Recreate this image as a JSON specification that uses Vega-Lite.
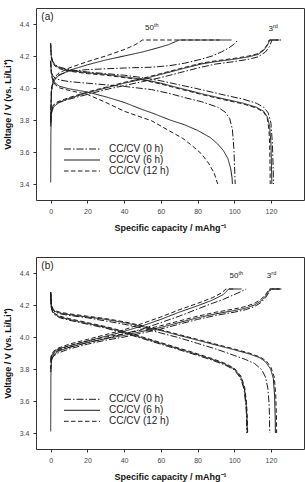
{
  "$schema": "https://vega.github.io/schema/vega-lite/v6.json",
  "padding": {"left": 2, "top": 7, "right": 2, "bottom": 0},
  "bounds": "flush",
  "spacing": 57,
  "config": {
    "font": "Liberation Sans",
    "view": {"stroke": "#333333", "strokeWidth": 1},
    "axis": {
      "grid": false, "domain": false, "tickSize": 3, "tickColor": "#333333", "labelOverlap": false,
      "labelFont": "Liberation Sans", "labelFontSize": 7, "labelColor": "#444444", "labelPadding": 4,
      "titleFont": "Liberation Sans", "titleFontSize": 9, "titleFontWeight": "bold", "titleColor": "#111111"
    },
    "legend": {
      "title": null, "orient": "none", "symbolType": "stroke", "symbolSize": 1296,
      "symbolStrokeWidth": 1, "symbolStrokeColor": "#1c1c1c", "clipHeight": 11, "rowPadding": 0,
      "labelOffset": 8.5, "labelFont": "Liberation Sans", "labelFontSize": 10, "labelColor": "#222222", "padding": 0
    }
  },
  "resolve": {"scale": {"strokeDash": "independent"}, "legend": {"strokeDash": "independent"}},
  "datasets": {
    "notes": [
      {"panel": "a", "main": "50", "sup": "th", "cap": 56.3, "v": 4.372},
      {"panel": "a", "main": "3", "sup": "rd", "cap": 121.1, "v": 4.369},
      {"panel": "b", "main": "50", "sup": "th", "cap": 102.3, "v": 4.379},
      {"panel": "b", "main": "3", "sup": "rd", "cap": 120.2, "v": 4.379}
    ],
    "tags": [
      {"panel": "a", "tag": "(a)", "cap": -5.1, "v": 4.441},
      {"panel": "b", "tag": "(b)", "cap": -5.1, "v": 4.441}
    ],
    "curves": [
      {"panel":"a","series":"0 h","cycle":"3rd","step":"discharge","cap":0,"v":4.27},
      {"panel":"a","series":"0 h","cycle":"3rd","step":"discharge","cap":0.3,"v":4.2},
      {"panel":"a","series":"0 h","cycle":"3rd","step":"discharge","cap":1,"v":4.17},
      {"panel":"a","series":"0 h","cycle":"3rd","step":"discharge","cap":2.5,"v":4.145},
      {"panel":"a","series":"0 h","cycle":"3rd","step":"discharge","cap":5,"v":4.13},
      {"panel":"a","series":"0 h","cycle":"3rd","step":"discharge","cap":10,"v":4.115},
      {"panel":"a","series":"0 h","cycle":"3rd","step":"discharge","cap":20,"v":4.1},
      {"panel":"a","series":"0 h","cycle":"3rd","step":"discharge","cap":30,"v":4.09},
      {"panel":"a","series":"0 h","cycle":"3rd","step":"discharge","cap":40,"v":4.08},
      {"panel":"a","series":"0 h","cycle":"3rd","step":"discharge","cap":50,"v":4.065},
      {"panel":"a","series":"0 h","cycle":"3rd","step":"discharge","cap":60,"v":4.045},
      {"panel":"a","series":"0 h","cycle":"3rd","step":"discharge","cap":70,"v":4.02},
      {"panel":"a","series":"0 h","cycle":"3rd","step":"discharge","cap":82,"v":3.99},
      {"panel":"a","series":"0 h","cycle":"3rd","step":"discharge","cap":95,"v":3.955},
      {"panel":"a","series":"0 h","cycle":"3rd","step":"discharge","cap":105,"v":3.93},
      {"panel":"a","series":"0 h","cycle":"3rd","step":"discharge","cap":112,"v":3.905},
      {"panel":"a","series":"0 h","cycle":"3rd","step":"discharge","cap":116,"v":3.88},
      {"panel":"a","series":"0 h","cycle":"3rd","step":"discharge","cap":118.5,"v":3.845},
      {"panel":"a","series":"0 h","cycle":"3rd","step":"discharge","cap":120,"v":3.78},
      {"panel":"a","series":"0 h","cycle":"3rd","step":"discharge","cap":120.8,"v":3.65},
      {"panel":"a","series":"0 h","cycle":"3rd","step":"discharge","cap":121.2,"v":3.5},
      {"panel":"a","series":"0 h","cycle":"3rd","step":"discharge","cap":121.4,"v":3.4},

      {"panel":"a","series":"6 h","cycle":"3rd","step":"discharge","cap":0,"v":4.28},
      {"panel":"a","series":"6 h","cycle":"3rd","step":"discharge","cap":0.3,"v":4.2},
      {"panel":"a","series":"6 h","cycle":"3rd","step":"discharge","cap":1,"v":4.165},
      {"panel":"a","series":"6 h","cycle":"3rd","step":"discharge","cap":2.5,"v":4.14},
      {"panel":"a","series":"6 h","cycle":"3rd","step":"discharge","cap":5,"v":4.125},
      {"panel":"a","series":"6 h","cycle":"3rd","step":"discharge","cap":10,"v":4.11},
      {"panel":"a","series":"6 h","cycle":"3rd","step":"discharge","cap":20,"v":4.095},
      {"panel":"a","series":"6 h","cycle":"3rd","step":"discharge","cap":30,"v":4.085},
      {"panel":"a","series":"6 h","cycle":"3rd","step":"discharge","cap":40,"v":4.07},
      {"panel":"a","series":"6 h","cycle":"3rd","step":"discharge","cap":50,"v":4.055},
      {"panel":"a","series":"6 h","cycle":"3rd","step":"discharge","cap":60,"v":4.03},
      {"panel":"a","series":"6 h","cycle":"3rd","step":"discharge","cap":70,"v":4.0},
      {"panel":"a","series":"6 h","cycle":"3rd","step":"discharge","cap":82,"v":3.965},
      {"panel":"a","series":"6 h","cycle":"3rd","step":"discharge","cap":95,"v":3.93},
      {"panel":"a","series":"6 h","cycle":"3rd","step":"discharge","cap":105,"v":3.905},
      {"panel":"a","series":"6 h","cycle":"3rd","step":"discharge","cap":112,"v":3.88},
      {"panel":"a","series":"6 h","cycle":"3rd","step":"discharge","cap":116,"v":3.855},
      {"panel":"a","series":"6 h","cycle":"3rd","step":"discharge","cap":118,"v":3.82},
      {"panel":"a","series":"6 h","cycle":"3rd","step":"discharge","cap":119.3,"v":3.76},
      {"panel":"a","series":"6 h","cycle":"3rd","step":"discharge","cap":120,"v":3.65},
      {"panel":"a","series":"6 h","cycle":"3rd","step":"discharge","cap":120.3,"v":3.5},
      {"panel":"a","series":"6 h","cycle":"3rd","step":"discharge","cap":120.5,"v":3.4},

      {"panel":"a","series":"12 h","cycle":"3rd","step":"discharge","cap":0,"v":4.28},
      {"panel":"a","series":"12 h","cycle":"3rd","step":"discharge","cap":0.3,"v":4.19},
      {"panel":"a","series":"12 h","cycle":"3rd","step":"discharge","cap":1,"v":4.16},
      {"panel":"a","series":"12 h","cycle":"3rd","step":"discharge","cap":2.5,"v":4.135},
      {"panel":"a","series":"12 h","cycle":"3rd","step":"discharge","cap":5,"v":4.12},
      {"panel":"a","series":"12 h","cycle":"3rd","step":"discharge","cap":10,"v":4.105},
      {"panel":"a","series":"12 h","cycle":"3rd","step":"discharge","cap":20,"v":4.09},
      {"panel":"a","series":"12 h","cycle":"3rd","step":"discharge","cap":30,"v":4.08},
      {"panel":"a","series":"12 h","cycle":"3rd","step":"discharge","cap":40,"v":4.065},
      {"panel":"a","series":"12 h","cycle":"3rd","step":"discharge","cap":50,"v":4.05},
      {"panel":"a","series":"12 h","cycle":"3rd","step":"discharge","cap":60,"v":4.025},
      {"panel":"a","series":"12 h","cycle":"3rd","step":"discharge","cap":70,"v":3.995},
      {"panel":"a","series":"12 h","cycle":"3rd","step":"discharge","cap":82,"v":3.96},
      {"panel":"a","series":"12 h","cycle":"3rd","step":"discharge","cap":95,"v":3.925},
      {"panel":"a","series":"12 h","cycle":"3rd","step":"discharge","cap":105,"v":3.9},
      {"panel":"a","series":"12 h","cycle":"3rd","step":"discharge","cap":112,"v":3.875},
      {"panel":"a","series":"12 h","cycle":"3rd","step":"discharge","cap":116,"v":3.85},
      {"panel":"a","series":"12 h","cycle":"3rd","step":"discharge","cap":118,"v":3.81},
      {"panel":"a","series":"12 h","cycle":"3rd","step":"discharge","cap":118.9,"v":3.74},
      {"panel":"a","series":"12 h","cycle":"3rd","step":"discharge","cap":119.3,"v":3.64},
      {"panel":"a","series":"12 h","cycle":"3rd","step":"discharge","cap":119.5,"v":3.5},
      {"panel":"a","series":"12 h","cycle":"3rd","step":"discharge","cap":119.6,"v":3.4},

      {"panel":"a","series":"0 h","cycle":"3rd","step":"charge","cap":0,"v":3.76},
      {"panel":"a","series":"0 h","cycle":"3rd","step":"charge","cap":0.4,"v":3.85},
      {"panel":"a","series":"0 h","cycle":"3rd","step":"charge","cap":1.5,"v":3.89},
      {"panel":"a","series":"0 h","cycle":"3rd","step":"charge","cap":4,"v":3.91},
      {"panel":"a","series":"0 h","cycle":"3rd","step":"charge","cap":10,"v":3.93},
      {"panel":"a","series":"0 h","cycle":"3rd","step":"charge","cap":20,"v":3.96},
      {"panel":"a","series":"0 h","cycle":"3rd","step":"charge","cap":30,"v":3.99},
      {"panel":"a","series":"0 h","cycle":"3rd","step":"charge","cap":40,"v":4.015},
      {"panel":"a","series":"0 h","cycle":"3rd","step":"charge","cap":50,"v":4.04},
      {"panel":"a","series":"0 h","cycle":"3rd","step":"charge","cap":60,"v":4.065},
      {"panel":"a","series":"0 h","cycle":"3rd","step":"charge","cap":70,"v":4.095},
      {"panel":"a","series":"0 h","cycle":"3rd","step":"charge","cap":82,"v":4.13},
      {"panel":"a","series":"0 h","cycle":"3rd","step":"charge","cap":90,"v":4.15},
      {"panel":"a","series":"0 h","cycle":"3rd","step":"charge","cap":100,"v":4.165},
      {"panel":"a","series":"0 h","cycle":"3rd","step":"charge","cap":108,"v":4.18},
      {"panel":"a","series":"0 h","cycle":"3rd","step":"charge","cap":113,"v":4.195},
      {"panel":"a","series":"0 h","cycle":"3rd","step":"charge","cap":117,"v":4.225},
      {"panel":"a","series":"0 h","cycle":"3rd","step":"charge","cap":119.3,"v":4.26},
      {"panel":"a","series":"0 h","cycle":"3rd","step":"charge","cap":120.5,"v":4.3},
      {"panel":"a","series":"0 h","cycle":"3rd","step":"charge","cap":125.5,"v":4.3},

      {"panel":"a","series":"6 h","cycle":"3rd","step":"charge","cap":0,"v":3.41},
      {"panel":"a","series":"6 h","cycle":"3rd","step":"charge","cap":0.1,"v":3.72},
      {"panel":"a","series":"6 h","cycle":"3rd","step":"charge","cap":0.4,"v":3.84},
      {"panel":"a","series":"6 h","cycle":"3rd","step":"charge","cap":1.5,"v":3.88},
      {"panel":"a","series":"6 h","cycle":"3rd","step":"charge","cap":4,"v":3.905},
      {"panel":"a","series":"6 h","cycle":"3rd","step":"charge","cap":10,"v":3.935},
      {"panel":"a","series":"6 h","cycle":"3rd","step":"charge","cap":20,"v":3.97},
      {"panel":"a","series":"6 h","cycle":"3rd","step":"charge","cap":30,"v":4.0},
      {"panel":"a","series":"6 h","cycle":"3rd","step":"charge","cap":40,"v":4.03},
      {"panel":"a","series":"6 h","cycle":"3rd","step":"charge","cap":50,"v":4.055},
      {"panel":"a","series":"6 h","cycle":"3rd","step":"charge","cap":60,"v":4.085},
      {"panel":"a","series":"6 h","cycle":"3rd","step":"charge","cap":70,"v":4.115},
      {"panel":"a","series":"6 h","cycle":"3rd","step":"charge","cap":82,"v":4.15},
      {"panel":"a","series":"6 h","cycle":"3rd","step":"charge","cap":90,"v":4.165},
      {"panel":"a","series":"6 h","cycle":"3rd","step":"charge","cap":100,"v":4.18},
      {"panel":"a","series":"6 h","cycle":"3rd","step":"charge","cap":108,"v":4.195},
      {"panel":"a","series":"6 h","cycle":"3rd","step":"charge","cap":113,"v":4.21},
      {"panel":"a","series":"6 h","cycle":"3rd","step":"charge","cap":116,"v":4.235},
      {"panel":"a","series":"6 h","cycle":"3rd","step":"charge","cap":118,"v":4.265},
      {"panel":"a","series":"6 h","cycle":"3rd","step":"charge","cap":119.4,"v":4.3},
      {"panel":"a","series":"6 h","cycle":"3rd","step":"charge","cap":124.5,"v":4.3},

      {"panel":"a","series":"12 h","cycle":"3rd","step":"charge","cap":0,"v":3.79},
      {"panel":"a","series":"12 h","cycle":"3rd","step":"charge","cap":0.4,"v":3.86},
      {"panel":"a","series":"12 h","cycle":"3rd","step":"charge","cap":1.5,"v":3.895},
      {"panel":"a","series":"12 h","cycle":"3rd","step":"charge","cap":4,"v":3.915},
      {"panel":"a","series":"12 h","cycle":"3rd","step":"charge","cap":10,"v":3.94},
      {"panel":"a","series":"12 h","cycle":"3rd","step":"charge","cap":20,"v":3.975},
      {"panel":"a","series":"12 h","cycle":"3rd","step":"charge","cap":30,"v":4.005},
      {"panel":"a","series":"12 h","cycle":"3rd","step":"charge","cap":40,"v":4.035},
      {"panel":"a","series":"12 h","cycle":"3rd","step":"charge","cap":50,"v":4.06},
      {"panel":"a","series":"12 h","cycle":"3rd","step":"charge","cap":60,"v":4.09},
      {"panel":"a","series":"12 h","cycle":"3rd","step":"charge","cap":70,"v":4.12},
      {"panel":"a","series":"12 h","cycle":"3rd","step":"charge","cap":82,"v":4.155},
      {"panel":"a","series":"12 h","cycle":"3rd","step":"charge","cap":90,"v":4.17},
      {"panel":"a","series":"12 h","cycle":"3rd","step":"charge","cap":100,"v":4.185},
      {"panel":"a","series":"12 h","cycle":"3rd","step":"charge","cap":108,"v":4.2},
      {"panel":"a","series":"12 h","cycle":"3rd","step":"charge","cap":113,"v":4.215},
      {"panel":"a","series":"12 h","cycle":"3rd","step":"charge","cap":116,"v":4.24},
      {"panel":"a","series":"12 h","cycle":"3rd","step":"charge","cap":118,"v":4.27},
      {"panel":"a","series":"12 h","cycle":"3rd","step":"charge","cap":119,"v":4.3},
      {"panel":"a","series":"12 h","cycle":"3rd","step":"charge","cap":124,"v":4.3},

      {"panel":"a","series":"0 h","cycle":"50th","step":"charge","cap":0,"v":3.78},
      {"panel":"a","series":"0 h","cycle":"50th","step":"charge","cap":0.4,"v":3.98},
      {"panel":"a","series":"0 h","cycle":"50th","step":"charge","cap":1.5,"v":4.05},
      {"panel":"a","series":"0 h","cycle":"50th","step":"charge","cap":4,"v":4.08},
      {"panel":"a","series":"0 h","cycle":"50th","step":"charge","cap":10,"v":4.105},
      {"panel":"a","series":"0 h","cycle":"50th","step":"charge","cap":20,"v":4.115},
      {"panel":"a","series":"0 h","cycle":"50th","step":"charge","cap":30,"v":4.12},
      {"panel":"a","series":"0 h","cycle":"50th","step":"charge","cap":40,"v":4.125},
      {"panel":"a","series":"0 h","cycle":"50th","step":"charge","cap":55,"v":4.13},
      {"panel":"a","series":"0 h","cycle":"50th","step":"charge","cap":65,"v":4.14},
      {"panel":"a","series":"0 h","cycle":"50th","step":"charge","cap":73,"v":4.155},
      {"panel":"a","series":"0 h","cycle":"50th","step":"charge","cap":82,"v":4.18},
      {"panel":"a","series":"0 h","cycle":"50th","step":"charge","cap":88,"v":4.2},
      {"panel":"a","series":"0 h","cycle":"50th","step":"charge","cap":93,"v":4.225},
      {"panel":"a","series":"0 h","cycle":"50th","step":"charge","cap":97,"v":4.25},
      {"panel":"a","series":"0 h","cycle":"50th","step":"charge","cap":100,"v":4.275},
      {"panel":"a","series":"0 h","cycle":"50th","step":"charge","cap":102,"v":4.3},

      {"panel":"a","series":"6 h","cycle":"50th","step":"charge","cap":0,"v":3.8},
      {"panel":"a","series":"6 h","cycle":"50th","step":"charge","cap":0.4,"v":3.98},
      {"panel":"a","series":"6 h","cycle":"50th","step":"charge","cap":1.5,"v":4.04},
      {"panel":"a","series":"6 h","cycle":"50th","step":"charge","cap":4,"v":4.075},
      {"panel":"a","series":"6 h","cycle":"50th","step":"charge","cap":10,"v":4.11},
      {"panel":"a","series":"6 h","cycle":"50th","step":"charge","cap":20,"v":4.145},
      {"panel":"a","series":"6 h","cycle":"50th","step":"charge","cap":30,"v":4.175},
      {"panel":"a","series":"6 h","cycle":"50th","step":"charge","cap":40,"v":4.2},
      {"panel":"a","series":"6 h","cycle":"50th","step":"charge","cap":50,"v":4.225},
      {"panel":"a","series":"6 h","cycle":"50th","step":"charge","cap":58,"v":4.25},
      {"panel":"a","series":"6 h","cycle":"50th","step":"charge","cap":64,"v":4.27},
      {"panel":"a","series":"6 h","cycle":"50th","step":"charge","cap":68,"v":4.29},
      {"panel":"a","series":"6 h","cycle":"50th","step":"charge","cap":70,"v":4.3},
      {"panel":"a","series":"6 h","cycle":"50th","step":"charge","cap":98.5,"v":4.3},

      {"panel":"a","series":"12 h","cycle":"50th","step":"charge","cap":0,"v":3.82},
      {"panel":"a","series":"12 h","cycle":"50th","step":"charge","cap":0.4,"v":4.0},
      {"panel":"a","series":"12 h","cycle":"50th","step":"charge","cap":1.5,"v":4.055},
      {"panel":"a","series":"12 h","cycle":"50th","step":"charge","cap":4,"v":4.09},
      {"panel":"a","series":"12 h","cycle":"50th","step":"charge","cap":10,"v":4.125},
      {"panel":"a","series":"12 h","cycle":"50th","step":"charge","cap":20,"v":4.165},
      {"panel":"a","series":"12 h","cycle":"50th","step":"charge","cap":30,"v":4.2},
      {"panel":"a","series":"12 h","cycle":"50th","step":"charge","cap":40,"v":4.24},
      {"panel":"a","series":"12 h","cycle":"50th","step":"charge","cap":46,"v":4.27},
      {"panel":"a","series":"12 h","cycle":"50th","step":"charge","cap":50,"v":4.3},
      {"panel":"a","series":"12 h","cycle":"50th","step":"charge","cap":92,"v":4.3},

      {"panel":"a","series":"0 h","cycle":"50th","step":"discharge","cap":0,"v":4.17},
      {"panel":"a","series":"0 h","cycle":"50th","step":"discharge","cap":0.3,"v":4.11},
      {"panel":"a","series":"0 h","cycle":"50th","step":"discharge","cap":1,"v":4.08},
      {"panel":"a","series":"0 h","cycle":"50th","step":"discharge","cap":2.5,"v":4.06},
      {"panel":"a","series":"0 h","cycle":"50th","step":"discharge","cap":5,"v":4.05},
      {"panel":"a","series":"0 h","cycle":"50th","step":"discharge","cap":10,"v":4.04},
      {"panel":"a","series":"0 h","cycle":"50th","step":"discharge","cap":20,"v":4.03},
      {"panel":"a","series":"0 h","cycle":"50th","step":"discharge","cap":30,"v":4.02},
      {"panel":"a","series":"0 h","cycle":"50th","step":"discharge","cap":40,"v":4.01},
      {"panel":"a","series":"0 h","cycle":"50th","step":"discharge","cap":55,"v":3.99},
      {"panel":"a","series":"0 h","cycle":"50th","step":"discharge","cap":65,"v":3.965},
      {"panel":"a","series":"0 h","cycle":"50th","step":"discharge","cap":73,"v":3.94},
      {"panel":"a","series":"0 h","cycle":"50th","step":"discharge","cap":82,"v":3.915},
      {"panel":"a","series":"0 h","cycle":"50th","step":"discharge","cap":91,"v":3.88},
      {"panel":"a","series":"0 h","cycle":"50th","step":"discharge","cap":95,"v":3.85},
      {"panel":"a","series":"0 h","cycle":"50th","step":"discharge","cap":97.5,"v":3.81},
      {"panel":"a","series":"0 h","cycle":"50th","step":"discharge","cap":99,"v":3.74},
      {"panel":"a","series":"0 h","cycle":"50th","step":"discharge","cap":99.8,"v":3.62},
      {"panel":"a","series":"0 h","cycle":"50th","step":"discharge","cap":100.2,"v":3.5},
      {"panel":"a","series":"0 h","cycle":"50th","step":"discharge","cap":100.5,"v":3.4},

      {"panel":"a","series":"6 h","cycle":"50th","step":"discharge","cap":0,"v":4.17},
      {"panel":"a","series":"6 h","cycle":"50th","step":"discharge","cap":0.3,"v":4.1},
      {"panel":"a","series":"6 h","cycle":"50th","step":"discharge","cap":1,"v":4.06},
      {"panel":"a","series":"6 h","cycle":"50th","step":"discharge","cap":2.5,"v":4.03},
      {"panel":"a","series":"6 h","cycle":"50th","step":"discharge","cap":5,"v":4.01},
      {"panel":"a","series":"6 h","cycle":"50th","step":"discharge","cap":10,"v":3.995},
      {"panel":"a","series":"6 h","cycle":"50th","step":"discharge","cap":20,"v":3.975},
      {"panel":"a","series":"6 h","cycle":"50th","step":"discharge","cap":30,"v":3.945},
      {"panel":"a","series":"6 h","cycle":"50th","step":"discharge","cap":40,"v":3.91},
      {"panel":"a","series":"6 h","cycle":"50th","step":"discharge","cap":50,"v":3.865},
      {"panel":"a","series":"6 h","cycle":"50th","step":"discharge","cap":55,"v":3.845},
      {"panel":"a","series":"6 h","cycle":"50th","step":"discharge","cap":65,"v":3.8},
      {"panel":"a","series":"6 h","cycle":"50th","step":"discharge","cap":73,"v":3.77},
      {"panel":"a","series":"6 h","cycle":"50th","step":"discharge","cap":80,"v":3.735},
      {"panel":"a","series":"6 h","cycle":"50th","step":"discharge","cap":87,"v":3.69},
      {"panel":"a","series":"6 h","cycle":"50th","step":"discharge","cap":91,"v":3.65},
      {"panel":"a","series":"6 h","cycle":"50th","step":"discharge","cap":94,"v":3.61},
      {"panel":"a","series":"6 h","cycle":"50th","step":"discharge","cap":96.5,"v":3.56},
      {"panel":"a","series":"6 h","cycle":"50th","step":"discharge","cap":98,"v":3.5},
      {"panel":"a","series":"6 h","cycle":"50th","step":"discharge","cap":98.8,"v":3.44},
      {"panel":"a","series":"6 h","cycle":"50th","step":"discharge","cap":99,"v":3.4},

      {"panel":"a","series":"12 h","cycle":"50th","step":"discharge","cap":0,"v":4.16},
      {"panel":"a","series":"12 h","cycle":"50th","step":"discharge","cap":0.3,"v":4.09},
      {"panel":"a","series":"12 h","cycle":"50th","step":"discharge","cap":1,"v":4.05},
      {"panel":"a","series":"12 h","cycle":"50th","step":"discharge","cap":2.5,"v":4.02},
      {"panel":"a","series":"12 h","cycle":"50th","step":"discharge","cap":5,"v":4.0},
      {"panel":"a","series":"12 h","cycle":"50th","step":"discharge","cap":10,"v":3.985},
      {"panel":"a","series":"12 h","cycle":"50th","step":"discharge","cap":20,"v":3.96},
      {"panel":"a","series":"12 h","cycle":"50th","step":"discharge","cap":30,"v":3.91},
      {"panel":"a","series":"12 h","cycle":"50th","step":"discharge","cap":40,"v":3.855},
      {"panel":"a","series":"12 h","cycle":"50th","step":"discharge","cap":50,"v":3.815},
      {"panel":"a","series":"12 h","cycle":"50th","step":"discharge","cap":55,"v":3.795},
      {"panel":"a","series":"12 h","cycle":"50th","step":"discharge","cap":65,"v":3.73},
      {"panel":"a","series":"12 h","cycle":"50th","step":"discharge","cap":72,"v":3.685},
      {"panel":"a","series":"12 h","cycle":"50th","step":"discharge","cap":77,"v":3.64},
      {"panel":"a","series":"12 h","cycle":"50th","step":"discharge","cap":82,"v":3.59},
      {"panel":"a","series":"12 h","cycle":"50th","step":"discharge","cap":86,"v":3.53},
      {"panel":"a","series":"12 h","cycle":"50th","step":"discharge","cap":89,"v":3.47},
      {"panel":"a","series":"12 h","cycle":"50th","step":"discharge","cap":91,"v":3.4},

      {"panel":"b","series":"0 h","cycle":"3rd","step":"discharge","cap":0,"v":4.27},
      {"panel":"b","series":"0 h","cycle":"3rd","step":"discharge","cap":0.3,"v":4.195},
      {"panel":"b","series":"0 h","cycle":"3rd","step":"discharge","cap":1,"v":4.17},
      {"panel":"b","series":"0 h","cycle":"3rd","step":"discharge","cap":2.5,"v":4.155},
      {"panel":"b","series":"0 h","cycle":"3rd","step":"discharge","cap":5,"v":4.145},
      {"panel":"b","series":"0 h","cycle":"3rd","step":"discharge","cap":10,"v":4.135},
      {"panel":"b","series":"0 h","cycle":"3rd","step":"discharge","cap":20,"v":4.12},
      {"panel":"b","series":"0 h","cycle":"3rd","step":"discharge","cap":30,"v":4.1},
      {"panel":"b","series":"0 h","cycle":"3rd","step":"discharge","cap":40,"v":4.08},
      {"panel":"b","series":"0 h","cycle":"3rd","step":"discharge","cap":50,"v":4.055},
      {"panel":"b","series":"0 h","cycle":"3rd","step":"discharge","cap":60,"v":4.025},
      {"panel":"b","series":"0 h","cycle":"3rd","step":"discharge","cap":70,"v":3.995},
      {"panel":"b","series":"0 h","cycle":"3rd","step":"discharge","cap":80,"v":3.96},
      {"panel":"b","series":"0 h","cycle":"3rd","step":"discharge","cap":90,"v":3.925},
      {"panel":"b","series":"0 h","cycle":"3rd","step":"discharge","cap":100,"v":3.885},
      {"panel":"b","series":"0 h","cycle":"3rd","step":"discharge","cap":106,"v":3.86},
      {"panel":"b","series":"0 h","cycle":"3rd","step":"discharge","cap":111,"v":3.835},
      {"panel":"b","series":"0 h","cycle":"3rd","step":"discharge","cap":115,"v":3.795},
      {"panel":"b","series":"0 h","cycle":"3rd","step":"discharge","cap":117,"v":3.75},
      {"panel":"b","series":"0 h","cycle":"3rd","step":"discharge","cap":118.3,"v":3.68},
      {"panel":"b","series":"0 h","cycle":"3rd","step":"discharge","cap":119,"v":3.58},
      {"panel":"b","series":"0 h","cycle":"3rd","step":"discharge","cap":119.2,"v":3.5},
      {"panel":"b","series":"0 h","cycle":"3rd","step":"discharge","cap":119.3,"v":3.4},

      {"panel":"b","series":"6 h","cycle":"3rd","step":"discharge","cap":0,"v":4.28},
      {"panel":"b","series":"6 h","cycle":"3rd","step":"discharge","cap":0.3,"v":4.2},
      {"panel":"b","series":"6 h","cycle":"3rd","step":"discharge","cap":1,"v":4.175},
      {"panel":"b","series":"6 h","cycle":"3rd","step":"discharge","cap":2.5,"v":4.16},
      {"panel":"b","series":"6 h","cycle":"3rd","step":"discharge","cap":5,"v":4.15},
      {"panel":"b","series":"6 h","cycle":"3rd","step":"discharge","cap":10,"v":4.14},
      {"panel":"b","series":"6 h","cycle":"3rd","step":"discharge","cap":20,"v":4.125},
      {"panel":"b","series":"6 h","cycle":"3rd","step":"discharge","cap":30,"v":4.11},
      {"panel":"b","series":"6 h","cycle":"3rd","step":"discharge","cap":40,"v":4.09},
      {"panel":"b","series":"6 h","cycle":"3rd","step":"discharge","cap":50,"v":4.065},
      {"panel":"b","series":"6 h","cycle":"3rd","step":"discharge","cap":60,"v":4.04},
      {"panel":"b","series":"6 h","cycle":"3rd","step":"discharge","cap":70,"v":4.01},
      {"panel":"b","series":"6 h","cycle":"3rd","step":"discharge","cap":80,"v":3.98},
      {"panel":"b","series":"6 h","cycle":"3rd","step":"discharge","cap":90,"v":3.95},
      {"panel":"b","series":"6 h","cycle":"3rd","step":"discharge","cap":100,"v":3.92},
      {"panel":"b","series":"6 h","cycle":"3rd","step":"discharge","cap":108,"v":3.895},
      {"panel":"b","series":"6 h","cycle":"3rd","step":"discharge","cap":114,"v":3.87},
      {"panel":"b","series":"6 h","cycle":"3rd","step":"discharge","cap":117,"v":3.845},
      {"panel":"b","series":"6 h","cycle":"3rd","step":"discharge","cap":119.8,"v":3.8},
      {"panel":"b","series":"6 h","cycle":"3rd","step":"discharge","cap":121.3,"v":3.74},
      {"panel":"b","series":"6 h","cycle":"3rd","step":"discharge","cap":122,"v":3.63},
      {"panel":"b","series":"6 h","cycle":"3rd","step":"discharge","cap":122.3,"v":3.5},
      {"panel":"b","series":"6 h","cycle":"3rd","step":"discharge","cap":122.4,"v":3.4},

      {"panel":"b","series":"12 h","cycle":"3rd","step":"discharge","cap":0,"v":4.28},
      {"panel":"b","series":"12 h","cycle":"3rd","step":"discharge","cap":0.3,"v":4.205},
      {"panel":"b","series":"12 h","cycle":"3rd","step":"discharge","cap":1,"v":4.18},
      {"panel":"b","series":"12 h","cycle":"3rd","step":"discharge","cap":2.5,"v":4.165},
      {"panel":"b","series":"12 h","cycle":"3rd","step":"discharge","cap":5,"v":4.155},
      {"panel":"b","series":"12 h","cycle":"3rd","step":"discharge","cap":10,"v":4.145},
      {"panel":"b","series":"12 h","cycle":"3rd","step":"discharge","cap":20,"v":4.13},
      {"panel":"b","series":"12 h","cycle":"3rd","step":"discharge","cap":30,"v":4.115},
      {"panel":"b","series":"12 h","cycle":"3rd","step":"discharge","cap":40,"v":4.095},
      {"panel":"b","series":"12 h","cycle":"3rd","step":"discharge","cap":50,"v":4.07},
      {"panel":"b","series":"12 h","cycle":"3rd","step":"discharge","cap":60,"v":4.045},
      {"panel":"b","series":"12 h","cycle":"3rd","step":"discharge","cap":70,"v":4.015},
      {"panel":"b","series":"12 h","cycle":"3rd","step":"discharge","cap":80,"v":3.985},
      {"panel":"b","series":"12 h","cycle":"3rd","step":"discharge","cap":90,"v":3.955},
      {"panel":"b","series":"12 h","cycle":"3rd","step":"discharge","cap":100,"v":3.925},
      {"panel":"b","series":"12 h","cycle":"3rd","step":"discharge","cap":108,"v":3.9},
      {"panel":"b","series":"12 h","cycle":"3rd","step":"discharge","cap":114,"v":3.875},
      {"panel":"b","series":"12 h","cycle":"3rd","step":"discharge","cap":117.5,"v":3.85},
      {"panel":"b","series":"12 h","cycle":"3rd","step":"discharge","cap":120,"v":3.81},
      {"panel":"b","series":"12 h","cycle":"3rd","step":"discharge","cap":121.8,"v":3.75},
      {"panel":"b","series":"12 h","cycle":"3rd","step":"discharge","cap":122.6,"v":3.64},
      {"panel":"b","series":"12 h","cycle":"3rd","step":"discharge","cap":123,"v":3.5},
      {"panel":"b","series":"12 h","cycle":"3rd","step":"discharge","cap":123.1,"v":3.4},

      {"panel":"b","series":"0 h","cycle":"3rd","step":"charge","cap":0,"v":3.78},
      {"panel":"b","series":"0 h","cycle":"3rd","step":"charge","cap":0.4,"v":3.86},
      {"panel":"b","series":"0 h","cycle":"3rd","step":"charge","cap":1.5,"v":3.88},
      {"panel":"b","series":"0 h","cycle":"3rd","step":"charge","cap":4,"v":3.9},
      {"panel":"b","series":"0 h","cycle":"3rd","step":"charge","cap":10,"v":3.925},
      {"panel":"b","series":"0 h","cycle":"3rd","step":"charge","cap":20,"v":3.955},
      {"panel":"b","series":"0 h","cycle":"3rd","step":"charge","cap":30,"v":3.98},
      {"panel":"b","series":"0 h","cycle":"3rd","step":"charge","cap":40,"v":4.0},
      {"panel":"b","series":"0 h","cycle":"3rd","step":"charge","cap":50,"v":4.025},
      {"panel":"b","series":"0 h","cycle":"3rd","step":"charge","cap":60,"v":4.05},
      {"panel":"b","series":"0 h","cycle":"3rd","step":"charge","cap":70,"v":4.08},
      {"panel":"b","series":"0 h","cycle":"3rd","step":"charge","cap":80,"v":4.11},
      {"panel":"b","series":"0 h","cycle":"3rd","step":"charge","cap":90,"v":4.135},
      {"panel":"b","series":"0 h","cycle":"3rd","step":"charge","cap":100,"v":4.155},
      {"panel":"b","series":"0 h","cycle":"3rd","step":"charge","cap":106,"v":4.17},
      {"panel":"b","series":"0 h","cycle":"3rd","step":"charge","cap":111,"v":4.19},
      {"panel":"b","series":"0 h","cycle":"3rd","step":"charge","cap":114.5,"v":4.215},
      {"panel":"b","series":"0 h","cycle":"3rd","step":"charge","cap":117,"v":4.245},
      {"panel":"b","series":"0 h","cycle":"3rd","step":"charge","cap":119,"v":4.28},
      {"panel":"b","series":"0 h","cycle":"3rd","step":"charge","cap":120,"v":4.3},
      {"panel":"b","series":"0 h","cycle":"3rd","step":"charge","cap":125.5,"v":4.3},

      {"panel":"b","series":"6 h","cycle":"3rd","step":"charge","cap":0,"v":3.41},
      {"panel":"b","series":"6 h","cycle":"3rd","step":"charge","cap":0.1,"v":3.75},
      {"panel":"b","series":"6 h","cycle":"3rd","step":"charge","cap":0.4,"v":3.85},
      {"panel":"b","series":"6 h","cycle":"3rd","step":"charge","cap":1.5,"v":3.885},
      {"panel":"b","series":"6 h","cycle":"3rd","step":"charge","cap":4,"v":3.91},
      {"panel":"b","series":"6 h","cycle":"3rd","step":"charge","cap":10,"v":3.935},
      {"panel":"b","series":"6 h","cycle":"3rd","step":"charge","cap":20,"v":3.965},
      {"panel":"b","series":"6 h","cycle":"3rd","step":"charge","cap":30,"v":3.99},
      {"panel":"b","series":"6 h","cycle":"3rd","step":"charge","cap":40,"v":4.01},
      {"panel":"b","series":"6 h","cycle":"3rd","step":"charge","cap":50,"v":4.035},
      {"panel":"b","series":"6 h","cycle":"3rd","step":"charge","cap":60,"v":4.06},
      {"panel":"b","series":"6 h","cycle":"3rd","step":"charge","cap":70,"v":4.09},
      {"panel":"b","series":"6 h","cycle":"3rd","step":"charge","cap":80,"v":4.12},
      {"panel":"b","series":"6 h","cycle":"3rd","step":"charge","cap":90,"v":4.145},
      {"panel":"b","series":"6 h","cycle":"3rd","step":"charge","cap":100,"v":4.165},
      {"panel":"b","series":"6 h","cycle":"3rd","step":"charge","cap":106,"v":4.18},
      {"panel":"b","series":"6 h","cycle":"3rd","step":"charge","cap":111,"v":4.2},
      {"panel":"b","series":"6 h","cycle":"3rd","step":"charge","cap":114.5,"v":4.225},
      {"panel":"b","series":"6 h","cycle":"3rd","step":"charge","cap":117,"v":4.255},
      {"panel":"b","series":"6 h","cycle":"3rd","step":"charge","cap":118.8,"v":4.285},
      {"panel":"b","series":"6 h","cycle":"3rd","step":"charge","cap":119.5,"v":4.3},
      {"panel":"b","series":"6 h","cycle":"3rd","step":"charge","cap":125.7,"v":4.3},

      {"panel":"b","series":"12 h","cycle":"3rd","step":"charge","cap":0,"v":3.8},
      {"panel":"b","series":"12 h","cycle":"3rd","step":"charge","cap":0.4,"v":3.87},
      {"panel":"b","series":"12 h","cycle":"3rd","step":"charge","cap":1.5,"v":3.895},
      {"panel":"b","series":"12 h","cycle":"3rd","step":"charge","cap":4,"v":3.92},
      {"panel":"b","series":"12 h","cycle":"3rd","step":"charge","cap":10,"v":3.945},
      {"panel":"b","series":"12 h","cycle":"3rd","step":"charge","cap":20,"v":3.975},
      {"panel":"b","series":"12 h","cycle":"3rd","step":"charge","cap":30,"v":4.0},
      {"panel":"b","series":"12 h","cycle":"3rd","step":"charge","cap":40,"v":4.02},
      {"panel":"b","series":"12 h","cycle":"3rd","step":"charge","cap":50,"v":4.045},
      {"panel":"b","series":"12 h","cycle":"3rd","step":"charge","cap":60,"v":4.07},
      {"panel":"b","series":"12 h","cycle":"3rd","step":"charge","cap":70,"v":4.1},
      {"panel":"b","series":"12 h","cycle":"3rd","step":"charge","cap":80,"v":4.13},
      {"panel":"b","series":"12 h","cycle":"3rd","step":"charge","cap":90,"v":4.155},
      {"panel":"b","series":"12 h","cycle":"3rd","step":"charge","cap":100,"v":4.175},
      {"panel":"b","series":"12 h","cycle":"3rd","step":"charge","cap":106,"v":4.19},
      {"panel":"b","series":"12 h","cycle":"3rd","step":"charge","cap":111,"v":4.21},
      {"panel":"b","series":"12 h","cycle":"3rd","step":"charge","cap":114.5,"v":4.235},
      {"panel":"b","series":"12 h","cycle":"3rd","step":"charge","cap":117,"v":4.265},
      {"panel":"b","series":"12 h","cycle":"3rd","step":"charge","cap":118.6,"v":4.29},
      {"panel":"b","series":"12 h","cycle":"3rd","step":"charge","cap":119.2,"v":4.3},
      {"panel":"b","series":"12 h","cycle":"3rd","step":"charge","cap":125,"v":4.3},

      {"panel":"b","series":"0 h","cycle":"50th","step":"charge","cap":0,"v":3.84},
      {"panel":"b","series":"0 h","cycle":"50th","step":"charge","cap":0.4,"v":3.87},
      {"panel":"b","series":"0 h","cycle":"50th","step":"charge","cap":1.5,"v":3.895},
      {"panel":"b","series":"0 h","cycle":"50th","step":"charge","cap":4,"v":3.915},
      {"panel":"b","series":"0 h","cycle":"50th","step":"charge","cap":10,"v":3.935},
      {"panel":"b","series":"0 h","cycle":"50th","step":"charge","cap":20,"v":3.965},
      {"panel":"b","series":"0 h","cycle":"50th","step":"charge","cap":30,"v":3.99},
      {"panel":"b","series":"0 h","cycle":"50th","step":"charge","cap":40,"v":4.02},
      {"panel":"b","series":"0 h","cycle":"50th","step":"charge","cap":50,"v":4.05},
      {"panel":"b","series":"0 h","cycle":"50th","step":"charge","cap":60,"v":4.09},
      {"panel":"b","series":"0 h","cycle":"50th","step":"charge","cap":70,"v":4.13},
      {"panel":"b","series":"0 h","cycle":"50th","step":"charge","cap":80,"v":4.175},
      {"panel":"b","series":"0 h","cycle":"50th","step":"charge","cap":88,"v":4.21},
      {"panel":"b","series":"0 h","cycle":"50th","step":"charge","cap":94,"v":4.235},
      {"panel":"b","series":"0 h","cycle":"50th","step":"charge","cap":98,"v":4.255},
      {"panel":"b","series":"0 h","cycle":"50th","step":"charge","cap":102,"v":4.275},
      {"panel":"b","series":"0 h","cycle":"50th","step":"charge","cap":106.5,"v":4.3},

      {"panel":"b","series":"6 h","cycle":"50th","step":"charge","cap":0,"v":3.85},
      {"panel":"b","series":"6 h","cycle":"50th","step":"charge","cap":0.4,"v":3.88},
      {"panel":"b","series":"6 h","cycle":"50th","step":"charge","cap":1.5,"v":3.905},
      {"panel":"b","series":"6 h","cycle":"50th","step":"charge","cap":4,"v":3.925},
      {"panel":"b","series":"6 h","cycle":"50th","step":"charge","cap":10,"v":3.945},
      {"panel":"b","series":"6 h","cycle":"50th","step":"charge","cap":20,"v":3.975},
      {"panel":"b","series":"6 h","cycle":"50th","step":"charge","cap":30,"v":4.005},
      {"panel":"b","series":"6 h","cycle":"50th","step":"charge","cap":40,"v":4.035},
      {"panel":"b","series":"6 h","cycle":"50th","step":"charge","cap":50,"v":4.07},
      {"panel":"b","series":"6 h","cycle":"50th","step":"charge","cap":60,"v":4.11},
      {"panel":"b","series":"6 h","cycle":"50th","step":"charge","cap":70,"v":4.155},
      {"panel":"b","series":"6 h","cycle":"50th","step":"charge","cap":80,"v":4.195},
      {"panel":"b","series":"6 h","cycle":"50th","step":"charge","cap":88,"v":4.23},
      {"panel":"b","series":"6 h","cycle":"50th","step":"charge","cap":94,"v":4.265},
      {"panel":"b","series":"6 h","cycle":"50th","step":"charge","cap":97,"v":4.3},
      {"panel":"b","series":"6 h","cycle":"50th","step":"charge","cap":104,"v":4.3},

      {"panel":"b","series":"12 h","cycle":"50th","step":"charge","cap":0,"v":3.86},
      {"panel":"b","series":"12 h","cycle":"50th","step":"charge","cap":0.4,"v":3.89},
      {"panel":"b","series":"12 h","cycle":"50th","step":"charge","cap":1.5,"v":3.91},
      {"panel":"b","series":"12 h","cycle":"50th","step":"charge","cap":4,"v":3.93},
      {"panel":"b","series":"12 h","cycle":"50th","step":"charge","cap":10,"v":3.955},
      {"panel":"b","series":"12 h","cycle":"50th","step":"charge","cap":20,"v":3.985},
      {"panel":"b","series":"12 h","cycle":"50th","step":"charge","cap":30,"v":4.015},
      {"panel":"b","series":"12 h","cycle":"50th","step":"charge","cap":40,"v":4.045},
      {"panel":"b","series":"12 h","cycle":"50th","step":"charge","cap":50,"v":4.085},
      {"panel":"b","series":"12 h","cycle":"50th","step":"charge","cap":60,"v":4.125},
      {"panel":"b","series":"12 h","cycle":"50th","step":"charge","cap":70,"v":4.17},
      {"panel":"b","series":"12 h","cycle":"50th","step":"charge","cap":80,"v":4.21},
      {"panel":"b","series":"12 h","cycle":"50th","step":"charge","cap":88,"v":4.245},
      {"panel":"b","series":"12 h","cycle":"50th","step":"charge","cap":93,"v":4.275},
      {"panel":"b","series":"12 h","cycle":"50th","step":"charge","cap":95.5,"v":4.3},
      {"panel":"b","series":"12 h","cycle":"50th","step":"charge","cap":101,"v":4.3},

      {"panel":"b","series":"0 h","cycle":"50th","step":"discharge","cap":0,"v":4.27},
      {"panel":"b","series":"0 h","cycle":"50th","step":"discharge","cap":0.3,"v":4.185},
      {"panel":"b","series":"0 h","cycle":"50th","step":"discharge","cap":1,"v":4.155},
      {"panel":"b","series":"0 h","cycle":"50th","step":"discharge","cap":2.5,"v":4.135},
      {"panel":"b","series":"0 h","cycle":"50th","step":"discharge","cap":5,"v":4.12},
      {"panel":"b","series":"0 h","cycle":"50th","step":"discharge","cap":10,"v":4.105},
      {"panel":"b","series":"0 h","cycle":"50th","step":"discharge","cap":20,"v":4.08},
      {"panel":"b","series":"0 h","cycle":"50th","step":"discharge","cap":30,"v":4.055},
      {"panel":"b","series":"0 h","cycle":"50th","step":"discharge","cap":40,"v":4.025},
      {"panel":"b","series":"0 h","cycle":"50th","step":"discharge","cap":50,"v":3.99},
      {"panel":"b","series":"0 h","cycle":"50th","step":"discharge","cap":60,"v":3.955},
      {"panel":"b","series":"0 h","cycle":"50th","step":"discharge","cap":70,"v":3.92},
      {"panel":"b","series":"0 h","cycle":"50th","step":"discharge","cap":80,"v":3.885},
      {"panel":"b","series":"0 h","cycle":"50th","step":"discharge","cap":88,"v":3.855},
      {"panel":"b","series":"0 h","cycle":"50th","step":"discharge","cap":95,"v":3.825},
      {"panel":"b","series":"0 h","cycle":"50th","step":"discharge","cap":100,"v":3.795},
      {"panel":"b","series":"0 h","cycle":"50th","step":"discharge","cap":103.3,"v":3.745},
      {"panel":"b","series":"0 h","cycle":"50th","step":"discharge","cap":105.3,"v":3.675},
      {"panel":"b","series":"0 h","cycle":"50th","step":"discharge","cap":106.3,"v":3.58},
      {"panel":"b","series":"0 h","cycle":"50th","step":"discharge","cap":106.7,"v":3.5},
      {"panel":"b","series":"0 h","cycle":"50th","step":"discharge","cap":106.8,"v":3.4},

      {"panel":"b","series":"6 h","cycle":"50th","step":"discharge","cap":0,"v":4.28},
      {"panel":"b","series":"6 h","cycle":"50th","step":"discharge","cap":0.3,"v":4.19},
      {"panel":"b","series":"6 h","cycle":"50th","step":"discharge","cap":1,"v":4.16},
      {"panel":"b","series":"6 h","cycle":"50th","step":"discharge","cap":2.5,"v":4.14},
      {"panel":"b","series":"6 h","cycle":"50th","step":"discharge","cap":5,"v":4.125},
      {"panel":"b","series":"6 h","cycle":"50th","step":"discharge","cap":10,"v":4.11},
      {"panel":"b","series":"6 h","cycle":"50th","step":"discharge","cap":20,"v":4.085},
      {"panel":"b","series":"6 h","cycle":"50th","step":"discharge","cap":30,"v":4.06},
      {"panel":"b","series":"6 h","cycle":"50th","step":"discharge","cap":40,"v":4.03},
      {"panel":"b","series":"6 h","cycle":"50th","step":"discharge","cap":50,"v":3.995},
      {"panel":"b","series":"6 h","cycle":"50th","step":"discharge","cap":60,"v":3.96},
      {"panel":"b","series":"6 h","cycle":"50th","step":"discharge","cap":70,"v":3.925},
      {"panel":"b","series":"6 h","cycle":"50th","step":"discharge","cap":80,"v":3.89},
      {"panel":"b","series":"6 h","cycle":"50th","step":"discharge","cap":88,"v":3.86},
      {"panel":"b","series":"6 h","cycle":"50th","step":"discharge","cap":95,"v":3.83},
      {"panel":"b","series":"6 h","cycle":"50th","step":"discharge","cap":100,"v":3.8},
      {"panel":"b","series":"6 h","cycle":"50th","step":"discharge","cap":103.5,"v":3.75},
      {"panel":"b","series":"6 h","cycle":"50th","step":"discharge","cap":105.5,"v":3.68},
      {"panel":"b","series":"6 h","cycle":"50th","step":"discharge","cap":106.5,"v":3.58},
      {"panel":"b","series":"6 h","cycle":"50th","step":"discharge","cap":106.9,"v":3.5},
      {"panel":"b","series":"6 h","cycle":"50th","step":"discharge","cap":107.1,"v":3.4},

      {"panel":"b","series":"12 h","cycle":"50th","step":"discharge","cap":0,"v":4.28},
      {"panel":"b","series":"12 h","cycle":"50th","step":"discharge","cap":0.3,"v":4.195},
      {"panel":"b","series":"12 h","cycle":"50th","step":"discharge","cap":1,"v":4.165},
      {"panel":"b","series":"12 h","cycle":"50th","step":"discharge","cap":2.5,"v":4.145},
      {"panel":"b","series":"12 h","cycle":"50th","step":"discharge","cap":5,"v":4.13},
      {"panel":"b","series":"12 h","cycle":"50th","step":"discharge","cap":10,"v":4.115},
      {"panel":"b","series":"12 h","cycle":"50th","step":"discharge","cap":20,"v":4.09},
      {"panel":"b","series":"12 h","cycle":"50th","step":"discharge","cap":30,"v":4.065},
      {"panel":"b","series":"12 h","cycle":"50th","step":"discharge","cap":40,"v":4.035},
      {"panel":"b","series":"12 h","cycle":"50th","step":"discharge","cap":50,"v":4.0},
      {"panel":"b","series":"12 h","cycle":"50th","step":"discharge","cap":60,"v":3.965},
      {"panel":"b","series":"12 h","cycle":"50th","step":"discharge","cap":70,"v":3.93},
      {"panel":"b","series":"12 h","cycle":"50th","step":"discharge","cap":80,"v":3.895},
      {"panel":"b","series":"12 h","cycle":"50th","step":"discharge","cap":88,"v":3.865},
      {"panel":"b","series":"12 h","cycle":"50th","step":"discharge","cap":95,"v":3.835},
      {"panel":"b","series":"12 h","cycle":"50th","step":"discharge","cap":100,"v":3.805},
      {"panel":"b","series":"12 h","cycle":"50th","step":"discharge","cap":103.7,"v":3.755},
      {"panel":"b","series":"12 h","cycle":"50th","step":"discharge","cap":105.7,"v":3.685},
      {"panel":"b","series":"12 h","cycle":"50th","step":"discharge","cap":106.7,"v":3.59},
      {"panel":"b","series":"12 h","cycle":"50th","step":"discharge","cap":107.1,"v":3.5},
      {"panel":"b","series":"12 h","cycle":"50th","step":"discharge","cap":107.3,"v":3.4}
    ]
  },
  "vconcat": [
    {
      "width": 268,
      "height": 192,
      "layer": [
        {
          "data": {"name": "curves"},
          "transform": [{"filter": "datum.panel === 'a'"}],
          "mark": {"type": "line", "strokeWidth": 1, "color": "#1c1c1c"},
          "encoding": {
            "x": {"field": "cap", "type": "quantitative", "scale": {"domain": [-8, 138], "nice": false, "zero": false},
                  "axis": {"values": [0, 20, 40, 60, 80, 100, 120], "tickCount": 12, "title": "Specific capacity / mAhg⁻¹", "titlePadding": 9}},
            "y": {"field": "v", "type": "quantitative", "scale": {"domain": [3.3, 4.5], "nice": false, "zero": false},
                  "axis": {"values": [3.4, 3.6, 3.8, 4.0, 4.2, 4.4], "tickCount": 12, "format": ".1f", "title": "Voltage / V (vs. Li/Li⁺)", "titlePadding": 7}},
            "strokeDash": {"field": "series", "type": "nominal",
                           "scale": {"domain": ["0 h", "6 h", "12 h"], "range": [[7, 2, 1.5, 2], [1, 0], [4.5, 2.5]]},
                           "legend": {"legendX": 27.5, "legendY": 135.5, "labelExpr": "'CC/CV (' + datum.label + ')'"}},
            "detail": [{"field": "cycle"}, {"field": "step"}]
          }
        },
        {
          "data": {"name": "notes"},
          "transform": [{"filter": "datum.panel === 'a'"}],
          "mark": {"type": "text", "align": "right", "baseline": "middle", "fontSize": 8, "color": "#222222"},
          "encoding": {"x": {"field": "cap", "type": "quantitative"}, "y": {"field": "v", "type": "quantitative"}, "text": {"field": "main"}}
        },
        {
          "data": {"name": "notes"},
          "transform": [{"filter": "datum.panel === 'a'"}],
          "mark": {"type": "text", "align": "left", "baseline": "middle", "fontSize": 5.5, "dy": -3, "color": "#222222"},
          "encoding": {"x": {"field": "cap", "type": "quantitative"}, "y": {"field": "v", "type": "quantitative"}, "text": {"field": "sup"}}
        },
        {
          "data": {"name": "tags"},
          "transform": [{"filter": "datum.panel === 'a'"}],
          "mark": {"type": "text", "align": "left", "baseline": "middle", "fontSize": 10, "color": "#222222"},
          "encoding": {"x": {"field": "cap", "type": "quantitative"}, "y": {"field": "v", "type": "quantitative"}, "text": {"field": "tag"}}
        }
      ]
    },
    {
      "width": 268,
      "height": 192,
      "layer": [
        {
          "data": {"name": "curves"},
          "transform": [{"filter": "datum.panel === 'b'"}],
          "mark": {"type": "line", "strokeWidth": 1, "color": "#1c1c1c"},
          "encoding": {
            "x": {"field": "cap", "type": "quantitative", "scale": {"domain": [-8, 138], "nice": false, "zero": false},
                  "axis": {"values": [0, 20, 40, 60, 80, 100, 120], "tickCount": 12, "title": "Specific capacity / mAhg⁻¹", "titlePadding": 9}},
            "y": {"field": "v", "type": "quantitative", "scale": {"domain": [3.3, 4.5], "nice": false, "zero": false},
                  "axis": {"values": [3.4, 3.6, 3.8, 4.0, 4.2, 4.4], "tickCount": 12, "format": ".1f", "title": "Voltage / V (vs. Li/Li⁺)", "titlePadding": 7}},
            "strokeDash": {"field": "series", "type": "nominal",
                           "scale": {"domain": ["0 h", "6 h", "12 h"], "range": [[7, 2, 1.5, 2], [1, 0], [4.5, 2.5]]},
                           "legend": {"legendX": 27.5, "legendY": 136.8, "labelExpr": "'CC/CV (' + datum.label + ')'"}},
            "detail": [{"field": "cycle"}, {"field": "step"}]
          }
        },
        {
          "data": {"name": "notes"},
          "transform": [{"filter": "datum.panel === 'b'"}],
          "mark": {"type": "text", "align": "right", "baseline": "middle", "fontSize": 8, "color": "#222222"},
          "encoding": {"x": {"field": "cap", "type": "quantitative"}, "y": {"field": "v", "type": "quantitative"}, "text": {"field": "main"}}
        },
        {
          "data": {"name": "notes"},
          "transform": [{"filter": "datum.panel === 'b'"}],
          "mark": {"type": "text", "align": "left", "baseline": "middle", "fontSize": 5.5, "dy": -3, "color": "#222222"},
          "encoding": {"x": {"field": "cap", "type": "quantitative"}, "y": {"field": "v", "type": "quantitative"}, "text": {"field": "sup"}}
        },
        {
          "data": {"name": "tags"},
          "transform": [{"filter": "datum.panel === 'b'"}],
          "mark": {"type": "text", "align": "left", "baseline": "middle", "fontSize": 10, "color": "#222222"},
          "encoding": {"x": {"field": "cap", "type": "quantitative"}, "y": {"field": "v", "type": "quantitative"}, "text": {"field": "tag"}}
        }
      ]
    }
  ]
}
